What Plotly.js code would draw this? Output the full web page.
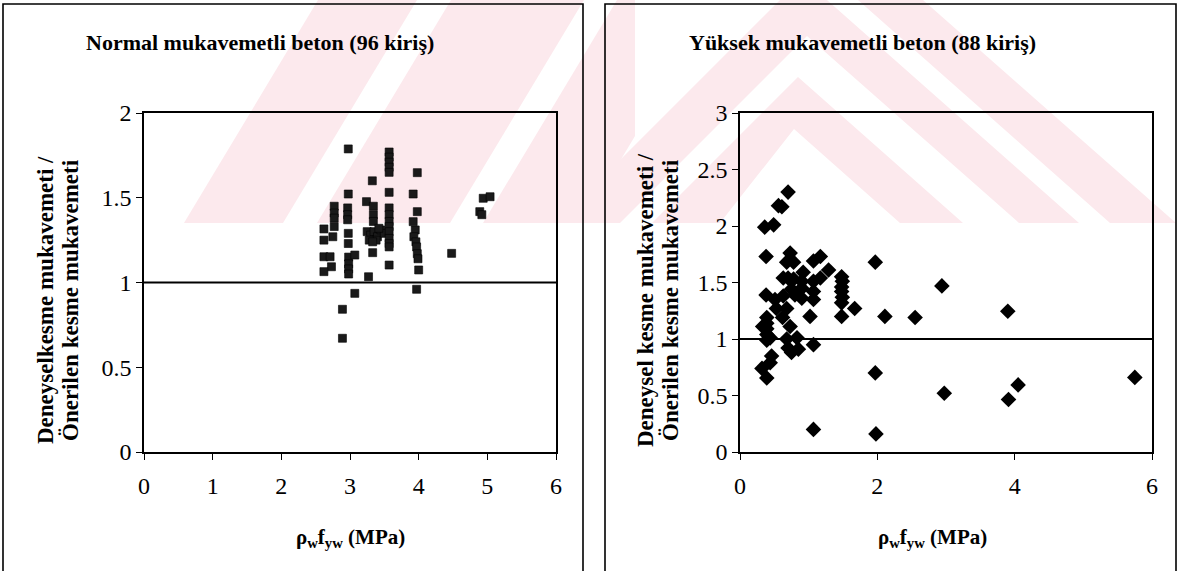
<!DOCTYPE html>
<html>
<head>
<meta charset="utf-8">
<script src="https://cdn.plot.ly/plotly-3.0.1.min.js"></script>
<style>
  html, body { margin: 0; padding: 0; background: #ffffff; }
  #chart { width: 1179px; height: 571px; }
</style>
</head>
<body>
<div id="chart"></div>
<script>
// ---- Data: normal-strength concrete (left panel) ----
const normalX = [2.975, 3.57, 3.57, 3.57, 3.57, 3.57, 3.98, 3.325, 2.975, 3.57, 3.92, 3.24,
  3.34, 3.34, 3.34, 3.57, 3.57, 3.57, 3.57, 3.98, 2.77, 2.77, 2.77, 2.966, 2.966, 2.966,
  2.62, 2.77, 2.75, 2.62, 2.975, 2.975, 3.25, 3.30, 3.35, 3.40, 3.45, 3.50, 3.38, 3.28, 3.42,
  3.57, 3.57, 3.57, 3.92, 3.95, 3.93, 3.96, 3.97, 3.98, 3.99, 3.33, 3.33, 3.57, 3.57, 4.00,
  2.62, 2.71, 2.73, 2.62, 2.98, 2.98, 2.98, 2.98, 3.07, 3.27, 4.48, 4.94, 5.04, 4.89, 4.92,
  3.07, 3.97, 2.89, 2.89];
const normalY = [1.788, 1.77, 1.74, 1.71, 1.68, 1.65, 1.648, 1.60, 1.522, 1.532, 1.522, 1.477,
  1.45, 1.40, 1.36, 1.44, 1.40, 1.36, 1.33, 1.418, 1.45, 1.41, 1.38, 1.44, 1.40, 1.37,
  1.316, 1.33, 1.27, 1.25, 1.29, 1.23, 1.30, 1.28, 1.30, 1.27, 1.31, 1.29, 1.25, 1.25, 1.32,
  1.30, 1.26, 1.23, 1.359, 1.31, 1.27, 1.24, 1.21, 1.17, 1.14, 1.24, 1.176, 1.21, 1.103, 1.074,
  1.152, 1.152, 1.093, 1.064, 1.15, 1.11, 1.08, 1.05, 1.162, 1.034, 1.172, 1.497, 1.506, 1.418, 1.40,
  0.936, 0.96, 0.842, 0.671];

// ---- Data: high-strength concrete (right panel) ----
const highX = [0.70, 0.56, 0.61, 0.36, 0.49, 0.38, 0.73, 0.68, 0.78, 1.07, 1.17, 1.29, 1.97,
  0.63, 0.70, 0.78, 0.92, 0.90, 1.17, 1.07, 1.48, 1.49, 1.48, 1.48, 1.49, 1.48, 1.48, 1.67,
  2.11, 2.55, 0.38, 0.51, 0.63, 0.75, 0.80, 0.90, 0.90, 1.07, 1.07, 0.53, 0.68, 0.62, 0.73,
  1.02, 0.39, 0.39, 0.39, 0.39, 0.39, 0.33, 0.44, 0.68, 0.83, 0.70, 0.75, 0.85, 1.07, 0.46,
  0.44, 0.32, 0.39, 1.97, 1.07, 1.98, 2.975, 3.91, 4.05, 5.75, 2.94, 3.90];
const highY = [2.30, 2.18, 2.17, 1.99, 2.01, 1.73, 1.76, 1.68, 1.68, 1.69, 1.73, 1.61, 1.68,
  1.54, 1.54, 1.53, 1.59, 1.51, 1.54, 1.51, 1.55, 1.51, 1.46, 1.42, 1.37, 1.32, 1.20, 1.27,
  1.20, 1.19, 1.39, 1.35, 1.38, 1.44, 1.39, 1.45, 1.36, 1.42, 1.35, 1.27, 1.27, 1.19, 1.11,
  1.20, 1.19, 1.14, 1.09, 1.04, 0.99, 1.11, 1.01, 1.00, 1.01, 0.92, 0.88, 0.91, 0.95, 0.85,
  0.79, 0.74, 0.655, 0.70, 0.20, 0.16, 0.52, 0.465, 0.594, 0.66, 1.47, 1.245];

// ---- Labels ----
const titleLeft = "Normal mukavemetli beton (96 kiriş)";
const titleRight = "Yüksek mukavemetli beton (88 kiriş)";
const yTitleLeft = ["Deneyselkesme mukavemeti /", "Önerilen kesme mukavemeti"];
const yTitleRight = ["Deneysel kesme mukavemeti /", "Önerilen kesme mukavemeti"];
const xTitle = "ρ<sub>w</sub>f<sub>yw</sub> (MPa)";
const xTicks = [0, 1, 2, 3, 4, 5, 6];
const xTicksRight = [0, 2, 4, 6];
const yTicksLeft = [0, 0.5, 1, 1.5, 2];
const yTicksRight = [0, 0.5, 1, 1.5, 2, 2.5, 3];
const referenceRatio = 1;
const xRange = [0, 6];

const W = 1179, H = 571;
const px = v => v / W;
const py = v => 1 - v / H;

const serif = "'Liberation Serif', 'Times New Roman', 'DejaVu Serif', serif";
const pink = "rgb(252,233,237)";

// faint background watermark (pixel polygons -> paper path)
function poly(pts) {
  return "M " + pts.map(p => px(p[0]).toFixed(5) + "," + py(p[1]).toFixed(5)).join(" L ") + " Z";
}
const watermark = [
  [[184,223],[283,223],[417,0],[318,0]],
  [[317,223],[450,223],[584,0],[451,0]],
  [[483,223],[583,223],[635,136],[635,0],[617,0]],
  [[557,223],[620,223],[807,36],[1019,223],[1079,223],[827,0],[780,0]],
  [[652,223],[720,223],[794,129],[900,223],[963,223],[798,77]],
  [[1110,223],[1176,223],[923,0],[858,0]]
].map(pts => ({ type: "path", xref: "paper", yref: "paper", path: poly(pts),
  fillcolor: pink, line: { width: 0 }, layer: "below" }));

const traces = [
  { x: normalX, y: normalY, type: "scatter", mode: "markers", xaxis: "x", yaxis: "y",
    marker: { symbol: "square", size: 8, color: "#1a1a1a", line: { width: 0.6, color: "#000" } },
    hoverinfo: "x+y", showlegend: false },
  { x: highX, y: highY, type: "scatter", mode: "markers", xaxis: "x2", yaxis: "y2",
    marker: { symbol: "diamond", size: 12, color: "#000", line: { width: 0 } },
    hoverinfo: "x+y", showlegend: false }
];

const axisCommon = {
  showline: true, mirror: true, linecolor: "#000", linewidth: 1.6,
  showgrid: false, zeroline: false, ticks: "outside", ticklen: 6, tickcolor: "#000", tickwidth: 1,
  tickfont: { family: serif, size: 24, color: "#000" }
};
const xAxisExtra = { ticklabelstandoff: 6 };

function yTitleAnn(text, x) {
  return { text: "<b>" + text + "</b>", xref: "paper", yref: "paper", x: px(x), y: py(300), showarrow: false,
    textangle: -90, font: { family: serif, size: 23, color: "#000" }, xanchor: "center", yanchor: "middle" };
}

const layout = {
  width: W, height: H,
  margin: { l: 0, r: 0, t: 0, b: 0 },
  paper_bgcolor: "#ffffff", plot_bgcolor: "rgba(0,0,0,0)",
  showlegend: false,
  font: { family: serif },
  xaxis: Object.assign({}, axisCommon, xAxisExtra, { domain: [px(144), px(556)], range: xRange, tickvals: xTicks, anchor: "y" }),
  yaxis: Object.assign({}, axisCommon, { domain: [py(452), py(113)], range: [0, 2], tickvals: yTicksLeft, anchor: "x" }),
  xaxis2: Object.assign({}, axisCommon, xAxisExtra, { domain: [px(740), px(1152)], range: xRange, tickvals: xTicksRight, anchor: "y2" }),
  yaxis2: Object.assign({}, axisCommon, { domain: [py(452), py(113)], range: [0, 3], tickvals: yTicksRight, anchor: "x2" }),
  shapes: watermark.concat([
    { type: "rect", xref: "paper", yref: "paper", x0: px(3), x1: px(583), y0: py(575), y1: py(4), line: { color: "#000", width: 1.6 }, layer: "below" },
    { type: "rect", xref: "paper", yref: "paper", x0: px(605), x1: px(1176), y0: py(575), y1: py(4), line: { color: "#000", width: 1.6 }, layer: "below" },
    { type: "line", xref: "x", yref: "y", x0: xRange[0], x1: xRange[1], y0: referenceRatio, y1: referenceRatio, line: { color: "#000", width: 2 } },
    { type: "line", xref: "x2", yref: "y2", x0: xRange[0], x1: xRange[1], y0: referenceRatio, y1: referenceRatio, line: { color: "#000", width: 2 } }
  ]),
  annotations: [
    { text: "<b>" + titleLeft + "</b>", xref: "paper", yref: "paper", x: px(260), y: py(42), showarrow: false,
      font: { family: serif, size: 22, color: "#000" }, xanchor: "center", yanchor: "middle" },
    { text: "<b>" + titleRight + "</b>", xref: "paper", yref: "paper", x: px(862), y: py(42), showarrow: false,
      font: { family: serif, size: 22, color: "#000" }, xanchor: "center", yanchor: "middle" },
    yTitleAnn(yTitleLeft[0], 45), yTitleAnn(yTitleLeft[1], 70),
    yTitleAnn(yTitleRight[0], 645), yTitleAnn(yTitleRight[1], 670),
    { text: "<b>" + xTitle + "</b>", xref: "paper", yref: "paper", x: px(350), y: py(538), showarrow: false,
      font: { family: serif, size: 21, color: "#000" }, xanchor: "center", yanchor: "middle" },
    { text: "<b>" + xTitle + "</b>", xref: "paper", yref: "paper", x: px(932), y: py(538), showarrow: false,
      font: { family: serif, size: 21, color: "#000" }, xanchor: "center", yanchor: "middle" }
  ]
};

Plotly.newPlot("chart", traces, layout, { displayModeBar: false, staticPlot: true });
</script>
</body>
</html>
